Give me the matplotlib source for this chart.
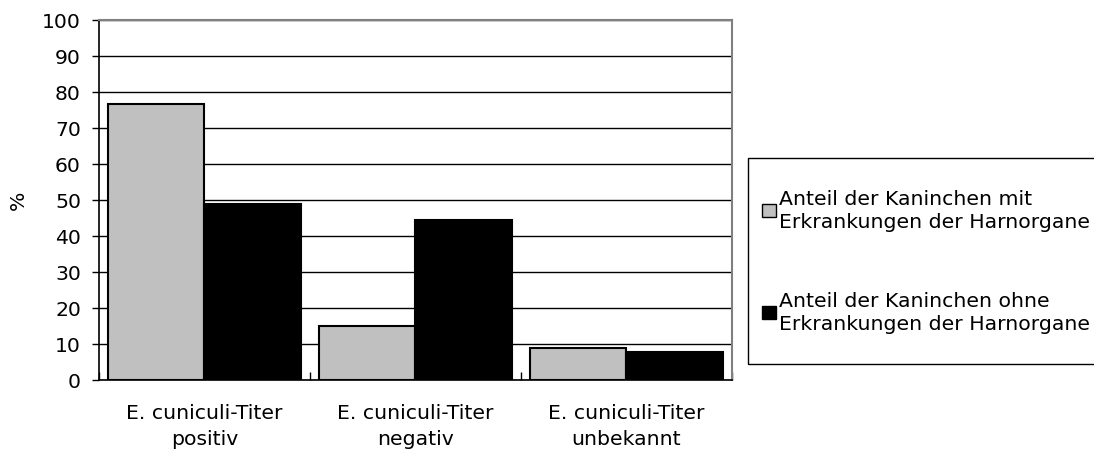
import matplotlib
matplotlib.use("Agg")
import matplotlib.pyplot as plt
from matplotlib.patches import Rectangle
import numpy as np

categories = ["E. cuniculi-Titer\npositiv", "E. cuniculi-Titer\nnegativ", "E. cuniculi-Titer\nunbekannt"]
series_names = ["Anteil der Kaninchen mit\nErkrankungen der Harnorgane",
                "Anteil der Kaninchen ohne\nErkrankungen der Harnorgane"]
with_disease = [76.6, 14.8, 8.7]
without_disease = [48.7, 44.3, 7.6]
colors = ["#c0c0c0", "#000000"]
y_ticks = [0, 10, 20, 30, 40, 50, 60, 70, 80, 90, 100]

plt.rcParams["font.family"] = ["DejaVu Sans"]
FS = 14.7
W, H = 1094, 452
fig = plt.figure(figsize=(W / 100, H / 100), dpi=100)
ax = fig.add_axes([99 / W, 1 - 380.7 / H, (732 - 99) / W, (380.7 - 20.7) / H])

x = np.arange(len(categories))
bw = 0.457
for i, (vals, c) in enumerate(zip([with_disease, without_disease], colors)):
    ax.bar(x + (i - 0.5) * bw, vals, width=bw, color=c, edgecolor="black",
           linewidth=1.5, zorder=3)

ax.set_xlim(-0.5, len(categories) - 0.5)
ax.set_ylim(0, 100)
ax.set_yticks(y_ticks)
ax.set_yticklabels([str(t) for t in y_ticks], fontsize=FS)
ax.grid(axis="y", color="black", linewidth=1.0, zorder=0)

ax.set_xticks(np.arange(len(categories) + 1) - 0.5)
ax.set_xticklabels([])
ax.set_xticks(x, minor=True)
ax.set_xticklabels(categories, minor=True, fontsize=FS, linespacing=1.45)
ax.tick_params(axis="x", which="major", direction="in", length=6, width=1, color="black")
ax.tick_params(axis="x", which="minor", length=0, pad=17)
ax.tick_params(axis="y", direction="out", length=5, width=1, pad=8)

for side in ["left", "bottom"]:
    ax.spines[side].set_color("black")
    ax.spines[side].set_linewidth(1.2)
for side in ["top", "right"]:
    ax.spines[side].set_color("#808080")
    ax.spines[side].set_linewidth(1.5)
ax.spines["bottom"].set_zorder(4)

ax.set_ylabel("%", fontsize=FS, va="center")
ax.yaxis.set_label_coords((18 - 99) / 633, 0.5)

# legend box drawn in figure pixel coordinates
def fx(px):
    return px / W

def fy(py):
    return 1 - py / H

fig.patches.append(Rectangle((fx(747.5), fy(365)), fx(1100) - fx(747.5), fy(159) - fy(365),
                             transform=fig.transFigure, fill=False, edgecolor="black",
                             linewidth=1.0))
entry_baselines = [205, 307]
for name, c, base in zip(series_names, colors, entry_baselines):
    fig.patches.append(Rectangle((fx(762), fy(205 - 191.7 + base)), fx(776) - fx(762), 13 / H,
                                 transform=fig.transFigure, facecolor=c, edgecolor="black",
                                 linewidth=1.0))
    for k, line in enumerate(name.split("\n")):
        fig.text(fx(779), fy(base + 23 * k), line, fontsize=FS, ha="left", va="baseline")

fig.savefig("out.png", dpi=100)
